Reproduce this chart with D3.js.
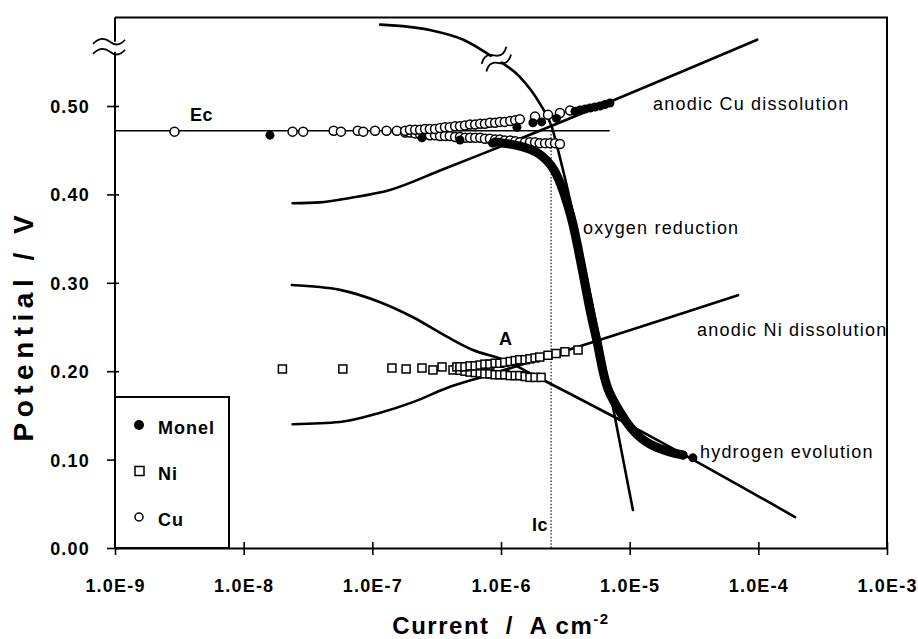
<!DOCTYPE html>
<html>
<head>
<meta charset="utf-8">
<script src="https://cdn.jsdelivr.net/npm/d3@7"></script>
<style>
  html, body { margin: 0; padding: 0; background: #fff; }
  svg { display: block; }
  text { font-family: "Liberation Sans", Arial, Helvetica, sans-serif; fill: #000; }
</style>
</head>
<body>
<svg id="chart" width="918" height="639"></svg>
<script>
// ---- axis ticks ----
const xTickValues = [1e-9, 1e-8, 1e-7, 1e-6, 1e-5, 1e-4, 1e-3];
const xTickLabels = ["1.0E-9", "1.0E-8", "1.0E-7", "1.0E-6", "1.0E-5", "1.0E-4", "1.0E-3"];
const yTickValues = [0, 0.1, 0.2, 0.3, 0.4, 0.5];
const yTickLabels = ["0.00", "0.10", "0.20", "0.30", "0.40", "0.50"];

// ---- partial polarisation curves (current / A cm-2, potential / V) ----
const anodicCuCurrent   = [2.4e-8, 3.9e-8, 6.7e-8, 1.37e-7, 3.36e-7, 6.9e-7, 1.11e-6, 9.8e-5];
const anodicCuPotential = [0.390, 0.391, 0.396, 0.405, 0.427, 0.445, 0.457, 0.575];

const oxygenCurrent   = [1.15e-7, 2.8e-7, 5.1e-7, 8.7e-7, 1.4e-6, 2.0e-6, 2.5e-6, 2.9e-6, 7.4e-6, 1.06e-5];
const oxygenPotential = [0.592, 0.586, 0.575, 0.555, 0.533, 0.503, 0.475, 0.439, 0.160, 0.043];

const hydrogenCurrent   = [2.37e-8, 5.6e-8, 1.15e-7, 2.07e-7, 3.8e-7, 6.05e-7, 1.04e-6, 2.0e-6, 1.06e-5, 1.93e-4];
const hydrogenPotential = [0.2975, 0.292, 0.278, 0.261, 0.239, 0.224, 0.213, 0.192, 0.137, 0.035];

const anodicNiCurrent   = [2.4e-8, 5.6e-8, 1.15e-7, 2.07e-7, 3.8e-7, 6.9e-7, 1.04e-6, 6.95e-5];
const anodicNiPotential = [0.140, 0.1425, 0.153, 0.165, 0.181, 0.193, 0.201, 0.286];

// corrosion potential / current
const ecPotential = 0.472;
const ecLineEnd = 7.0e-6;
const icCurrent = 2.45e-6;

// ---- measured data: Cu ----
const cuSparseCurrent   = [2.9e-9, 2.4e-8, 2.9e-8, 5.0e-8, 5.7e-8, 7.7e-8, 8.5e-8, 1.05e-7, 1.29e-7, 1.55e-7];
const cuSparsePotential = [0.471, 0.471, 0.471, 0.472, 0.471, 0.472, 0.471, 0.472, 0.472, 0.472];

const cuAnodicCurrent = [1.8e-7, 1.96e-7, 2.15e-7, 2.35e-7, 2.57e-7, 2.8e-7, 3.07e-7, 3.36e-7, 3.67e-7, 4.0e-7,
  4.4e-7, 4.8e-7, 5.25e-7, 5.75e-7, 6.3e-7, 6.9e-7, 7.5e-7, 8.2e-7, 9.0e-7, 9.8e-7,
  1.07e-6, 1.18e-6, 1.29e-6, 1.4e-6, 1.84e-6, 2.32e-6, 2.87e-6, 3.44e-6];
const cuAnodicPotential = [0.472, 0.473, 0.473, 0.473, 0.474, 0.474, 0.474, 0.475, 0.476, 0.476,
  0.477, 0.477, 0.478, 0.479, 0.479, 0.480, 0.480, 0.481, 0.481, 0.482,
  0.482, 0.483, 0.484, 0.485, 0.488, 0.490, 0.492, 0.495];

const cuCathodicCurrent = [1.8e-7, 1.96e-7, 2.15e-7, 2.35e-7, 2.57e-7, 2.8e-7, 3.07e-7, 3.36e-7, 3.67e-7, 4.0e-7,
  4.4e-7, 4.8e-7, 5.25e-7, 5.75e-7, 6.3e-7, 6.9e-7, 7.5e-7, 8.2e-7, 9.0e-7, 9.8e-7,
  1.07e-6, 1.18e-6, 1.29e-6, 1.4e-6, 1.54e-6, 1.68e-6, 1.84e-6, 2.0e-6, 2.2e-6, 2.4e-6, 2.63e-6, 2.87e-6];
const cuCathodicPotential = [0.470, 0.470, 0.469, 0.468, 0.468, 0.467, 0.467, 0.466, 0.466, 0.466,
  0.465, 0.465, 0.464, 0.464, 0.464, 0.464, 0.463, 0.463, 0.462, 0.462,
  0.461, 0.461, 0.460, 0.459, 0.459, 0.459, 0.459, 0.458, 0.458, 0.458, 0.458, 0.457];

// ---- measured data: Ni ----
const niSparseCurrent   = [2.0e-8, 5.9e-8, 1.42e-7, 1.83e-7, 2.43e-7, 2.96e-7, 3.48e-7, 4.24e-7, 4.54e-7];
const niSparsePotential = [0.2025, 0.2025, 0.2036, 0.2025, 0.2036, 0.2014, 0.2048, 0.2014, 0.2048];

const niAnodicCurrent = [4.8e-7, 5.25e-7, 5.75e-7, 6.3e-7, 6.9e-7, 7.5e-7, 8.2e-7, 9.0e-7, 9.8e-7, 1.07e-6,
  1.18e-6, 1.29e-6, 1.4e-6, 1.54e-6, 1.68e-6, 1.84e-6, 2.0e-6, 2.32e-6, 2.68e-6, 3.14e-6, 3.97e-6];
const niAnodicPotential = [0.205, 0.205, 0.206, 0.206, 0.207, 0.208, 0.208, 0.209, 0.209, 0.210,
  0.211, 0.212, 0.213, 0.213, 0.214, 0.215, 0.216, 0.218, 0.220, 0.222, 0.224];

const niCathodicCurrent = [4.8e-7, 5.25e-7, 5.75e-7, 6.3e-7, 6.9e-7, 7.5e-7, 8.2e-7, 9.0e-7, 9.8e-7, 1.07e-6,
  1.18e-6, 1.29e-6, 1.4e-6, 1.54e-6, 1.68e-6, 1.84e-6, 2.05e-6];
const niCathodicPotential = [0.201, 0.200, 0.199, 0.1985, 0.198, 0.197, 0.197, 0.196, 0.196, 0.196,
  0.195, 0.195, 0.195, 0.194, 0.193, 0.193, 0.193];

// ---- measured data: Monel ----
const monelSparseCurrent   = [1.6e-8, 2.43e-7, 4.8e-7, 8.6e-7, 1.33e-6, 1.77e-6, 2.07e-6, 2.7e-6, 2.6e-5, 3.1e-5];
const monelSparsePotential = [0.467, 0.464, 0.4615, 0.458, 0.476, 0.481, 0.482, 0.486, 0.105, 0.102];

const monelAnodicCurrent   = [3.76e-6, 4.11e-6, 4.5e-6, 4.92e-6, 5.38e-6, 5.88e-6, 6.43e-6, 7.03e-6];
const monelAnodicPotential = [0.494, 0.4955, 0.4966, 0.4977, 0.4989, 0.500, 0.5017, 0.5034];

// dense cathodic scan of Monel, drawn as a continuous heavy trace
const monelScanCurrent = [8.98e-7, 1.175e-6, 1.536e-6, 1.905e-6, 2.278e-6, 2.628e-6, 3.032e-6, 3.316e-6, 3.626e-6,
  3.966e-6, 4.337e-6, 4.744e-6, 5.095e-6, 5.572e-6, 6.2e-6, 6.78e-6, 7.42e-6, 8.41e-6, 9.53e-6,
  1.1e-5, 1.27e-5, 1.518e-5, 1.816e-5, 2.17e-5, 2.597e-5];
const monelScanPotential = [0.4593, 0.457, 0.4536, 0.448, 0.4389, 0.4276, 0.405, 0.3869, 0.3676,
  0.3394, 0.3111, 0.2805, 0.2579, 0.2353, 0.198, 0.1787, 0.1674, 0.1538, 0.1414,
  0.1301, 0.1222, 0.1154, 0.1109, 0.1075, 0.1052];

// ---- layout ----
const plot = { left: 115, right: 887, top: 17.6, bottom: 548 };
const svg = d3.select("#chart");
const x = d3.scaleLog().domain([1e-9, 1e-3]).range([plot.left, plot.right]);
const y = d3.scaleLinear().domain([0, 0.6]).range([plot.bottom, plot.top]);
const ink = "#000";

const pairs = (a, b) => d3.zip(a, b);
const smooth = d3.line().x(d => x(d[0])).y(d => y(d[1])).curve(d3.curveMonotoneX);

// ---- frame (top and right) ----
svg.append("path")
  .attr("d", `M${plot.left},${plot.top}H${plot.right}V${plot.bottom}`)
  .attr("fill", "none").attr("stroke", ink).attr("stroke-width", 2);

// ---- x axis ----
const xAxis = d3.axisBottom(x)
  .tickValues(xTickValues)
  .tickFormat((d, i) => xTickLabels[i])
  .tickSizeOuter(0).tickSizeInner(7);
const gx = svg.append("g")
  .attr("transform", `translate(0,${plot.bottom})`)
  .call(xAxis)
  .attr("font-family", null).attr("font-size", null);
gx.select(".domain").attr("stroke", ink).attr("stroke-width", 2);
gx.selectAll(".tick line").attr("y1", -6).attr("y2", 7).attr("stroke", ink).attr("stroke-width", 1.6);
gx.selectAll(".tick text")
  .attr("y", 44).attr("dy", null)
  .style("font-size", "18px").style("font-weight", "bold").style("letter-spacing", "1.2px");

// ---- y axis (with a break near the top) ----
const yBreak = 0.567;
const yAxis = d3.axisLeft(y)
  .tickValues(yTickValues)
  .tickFormat((d, i) => yTickLabels[i])
  .tickSizeOuter(0).tickSizeInner(8);
const gy = svg.append("g")
  .attr("transform", `translate(${plot.left},0)`)
  .call(yAxis)
  .attr("font-family", null).attr("font-size", null);
gy.select(".domain").remove();
gy.selectAll(".tick line").attr("x1", -8).attr("x2", 4).attr("stroke", ink).attr("stroke-width", 1.6);
gy.selectAll(".tick text")
  .attr("x", -25).attr("dy", "0.36em")
  .style("font-size", "18px").style("font-weight", "bold").style("letter-spacing", "1.2px");

const by = y(yBreak);
svg.append("path")
  .attr("d", `M${plot.left},${plot.bottom}V${by + 5}M${plot.left},${by - 5}V${plot.top}`)
  .attr("stroke", ink).attr("stroke-width", 2).attr("fill", "none");
[-5, 5].forEach(off => {
  svg.append("path")
    .attr("transform", `translate(${plot.left},${by + off})`)
    .attr("d", "M-22,2 C-16,-4 -10,-4 -5,0 S5,4 10,-2")
    .attr("fill", "none").attr("stroke", ink).attr("stroke-width", 1.8);
});

// ---- axis titles ----
svg.append("text")
  .attr("transform", `translate(33,${(y(0.117) + y(0.386)) / 2}) rotate(-90)`)
  .attr("text-anchor", "middle")
  .style("font-size", "28px").style("font-weight", "bold").style("letter-spacing", "5.5px")
  .text("Potential / V");

const xt = svg.append("text")
  .attr("x", (plot.left + plot.right) / 2).attr("y", 634)
  .attr("text-anchor", "middle")
  .style("font-size", "24px").style("font-weight", "bold").style("letter-spacing", "1.5px")
  .style("white-space", "pre");
xt.append("tspan").text("Current  /  A cm");
xt.append("tspan").attr("dy", -10).style("font-size", "15px").text("-2");

// ---- partial curves ----
const curveGroup = svg.append("g").attr("fill", "none").attr("stroke", ink)
  .attr("stroke-width", 2.6).attr("stroke-linecap", "round");
curveGroup.append("path").attr("d", smooth(pairs(anodicCuCurrent, anodicCuPotential)));
curveGroup.append("path").attr("d", smooth(pairs(hydrogenCurrent, hydrogenPotential)));
curveGroup.append("path").attr("d", smooth(pairs(anodicNiCurrent, anodicNiPotential)));
curveGroup.append("path").attr("d", smooth(pairs(oxygenCurrent, oxygenPotential)));

// break marks across the oxygen reduction curve
const oBreak = [9.2e-7, 0.553];
const ob = svg.append("g")
  .attr("transform", `translate(${x(oBreak[0])},${y(oBreak[1])}) rotate(-31)`);
ob.append("rect").attr("x", -15).attr("y", -4.5).attr("width", 30).attr("height", 9).attr("fill", "#fff");
[-4.5, 4.5].forEach(off => {
  ob.append("path")
    .attr("transform", `translate(0,${off})`)
    .attr("d", "M-15,1 C-9,-5 -4,-4 0,0 S9,5 15,-1")
    .attr("fill", "none").attr("stroke", ink).attr("stroke-width", 1.8);
});

// corrosion potential line
svg.append("line")
  .attr("x1", x(1e-9)).attr("x2", x(ecLineEnd))
  .attr("y1", y(ecPotential)).attr("y2", y(ecPotential))
  .attr("stroke", ink).attr("stroke-width", 1.3);

// corrosion current line
svg.append("line")
  .attr("x1", x(icCurrent)).attr("x2", x(icCurrent))
  .attr("y1", y(ecPotential)).attr("y2", y(0))
  .attr("stroke", ink).attr("stroke-width", 1.1).attr("stroke-dasharray", "1.5,1.8");

// ---- markers ----
const squares = (cur, pot) => svg.append("g").selectAll("rect")
  .data(pairs(cur, pot)).join("rect")
  .attr("x", d => x(d[0]) - 4).attr("y", d => y(d[1]) - 4)
  .attr("width", 8).attr("height", 8)
  .attr("fill", "#fff").attr("stroke", ink).attr("stroke-width", 1.5);
const openCircles = (cur, pot) => svg.append("g").selectAll("circle")
  .data(pairs(cur, pot)).join("circle")
  .attr("cx", d => x(d[0])).attr("cy", d => y(d[1])).attr("r", 4.5)
  .attr("fill", "#fff").attr("stroke", ink).attr("stroke-width", 1.5);
const dots = (cur, pot) => svg.append("g").selectAll("circle")
  .data(pairs(cur, pot)).join("circle")
  .attr("cx", d => x(d[0])).attr("cy", d => y(d[1])).attr("r", 4.5)
  .attr("fill", ink);

squares(niSparseCurrent, niSparsePotential);
squares(niCathodicCurrent, niCathodicPotential);
squares(niAnodicCurrent, niAnodicPotential);

openCircles(cuSparseCurrent, cuSparsePotential);
openCircles(cuCathodicCurrent, cuCathodicPotential);
openCircles(cuAnodicCurrent, cuAnodicPotential);

svg.append("path")
  .attr("d", d3.line().x(d => x(d[0])).y(d => y(d[1])).curve(d3.curveBasis)(pairs(monelScanCurrent, monelScanPotential)))
  .attr("fill", "none").attr("stroke", ink).attr("stroke-width", 9)
  .attr("stroke-linecap", "round").attr("stroke-linejoin", "round");
dots(monelAnodicCurrent, monelAnodicPotential);
dots(monelSparseCurrent, monelSparsePotential);

// ---- annotations ----
const annotations = [
  { text: "anodic Cu dissolution", current: 1.52e-5, potential: 0.4955, bold: false, anchor: "start" },
  { text: "oxygen reduction",      current: 4.34e-6, potential: 0.3552, bold: false, anchor: "start" },
  { text: "anodic Ni dissolution", current: 3.34e-5, potential: 0.2398, bold: false, anchor: "start" },
  { text: "hydrogen evolution",    current: 3.52e-5, potential: 0.1018, bold: false, anchor: "start" },
  { text: "Ec", current: 3.83e-9, potential: 0.483, bold: true, anchor: "start" },
  { text: "A",  current: 1.09e-6, potential: 0.2296, bold: true, anchor: "middle" },
  { text: "Ic", current: 2.32e-6, potential: 0.0192, bold: true, anchor: "end" }
];
svg.append("g").selectAll("text").data(annotations).join("text")
  .attr("x", d => x(d.current)).attr("y", d => y(d.potential))
  .attr("text-anchor", d => d.anchor)
  .style("font-size", "18px")
  .style("font-weight", d => d.bold ? "bold" : "normal")
  .style("letter-spacing", d => d.bold ? "0.5px" : "1.2px")
  .text(d => d.text);

// ---- legend ----
const legendNames = ["Monel", "Ni", "Cu"];
const lg = svg.append("g");
lg.append("rect")
  .attr("x", plot.left).attr("y", 397).attr("width", 114).attr("height", plot.bottom - 397)
  .attr("fill", "#fff").attr("stroke", ink).attr("stroke-width", 2);
legendNames.forEach((name, i) => {
  const cy = 425 + i * 46;
  if (name === "Monel") {
    lg.append("circle").attr("cx", 139).attr("cy", cy).attr("r", 5).attr("fill", ink);
  } else if (name === "Ni") {
    lg.append("rect").attr("x", 135).attr("y", cy - 4.5).attr("width", 9).attr("height", 9)
      .attr("fill", "#fff").attr("stroke", ink).attr("stroke-width", 1.5);
  } else {
    lg.append("circle").attr("cx", 139).attr("cy", cy).attr("r", 4)
      .attr("fill", "#fff").attr("stroke", ink).attr("stroke-width", 1.5);
  }
  lg.append("text").attr("x", 158).attr("y", cy + 9)
    .style("font-size", "18px").style("font-weight", "bold").style("letter-spacing", "1px")
    .text(name);
});
</script>
</body>
</html>
